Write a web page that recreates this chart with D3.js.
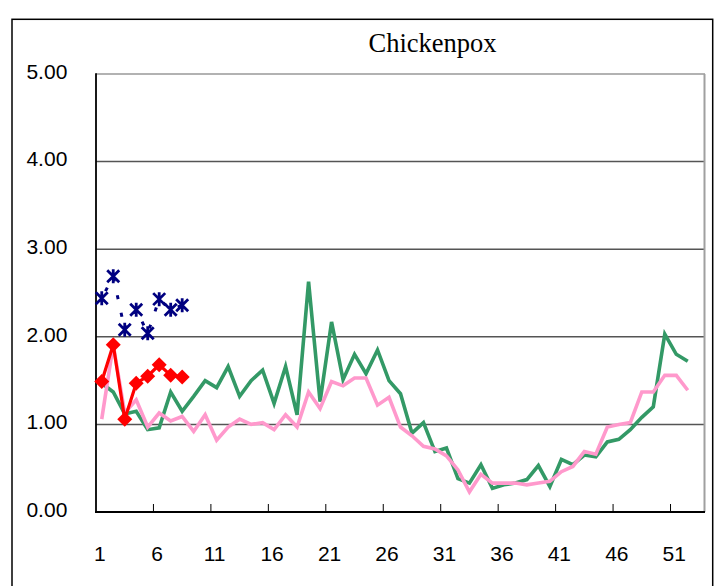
<!DOCTYPE html>
<html>
<head>
<meta charset="utf-8">
<script src="https://cdn.jsdelivr.net/npm/d3@7"></script>
<style>
  body { margin: 0; background: #fff; }
  svg { display: block; }
</style>
</head>
<body>
<div id="chart"></div>
<script>
// week numbers on the category axis (53 slots, data runs to 52)
var weeks = d3.range(1, 54);
var weekLabels = [1, 6, 11, 16, 21, 26, 31, 36, 41, 46, 51];
var yTicks = [0, 1, 2, 3, 4, 5];

// green: last season
var seriesGreen = [1.47, 1.37, 1.12, 1.15, 0.94, 0.96, 1.37, 1.15, 1.32, 1.50,
    1.42, 1.66, 1.32, 1.50, 1.62, 1.24, 1.66, 1.11, 2.63, 1.26,
    2.17, 1.51, 1.80, 1.58, 1.85, 1.50, 1.35, 0.90, 1.02, 0.69,
    0.73, 0.38, 0.33, 0.54, 0.27, 0.31, 0.33, 0.37, 0.53, 0.29,
    0.60, 0.54, 0.65, 0.63, 0.80, 0.83, 0.94, 1.08, 1.20, 2.03,
    1.80, 1.72];
// pink: average
var seriesPink = [1.06, 1.91, 1.13, 1.28, 0.97, 1.13, 1.04, 1.09, 0.92, 1.11,
    0.82, 0.97, 1.06, 1.00, 1.02, 0.94, 1.11, 0.97, 1.37, 1.18,
    1.49, 1.44, 1.53, 1.53, 1.22, 1.31, 0.97, 0.87, 0.75, 0.72,
    0.64, 0.48, 0.23, 0.43, 0.33, 0.33, 0.33, 0.31, 0.33, 0.35,
    0.46, 0.52, 0.69, 0.66, 0.97, 1.00, 1.02, 1.37, 1.37, 1.56,
    1.56, 1.39];
// red: this season
var seriesRed = [1.49, 1.91, 1.06, 1.47, 1.55, 1.68, 1.56, 1.54];
// blue: this season (other)
var seriesBlue = [2.44, 2.69, 2.08, 2.31, 2.04, 2.43, 2.31, 2.36];

var width = 721, height = 586;
var plot = { left: 96, right: 705, top: 74, bottom: 512 };

var svg = d3.select('#chart').append('svg')
    .attr('width', width)
    .attr('height', height);

var x = d3.scaleBand()
    .domain(weeks)
    .range([plot.left, plot.right])
    .paddingInner(0).paddingOuter(0);

var y = d3.scaleLinear()
    .domain([0, 5])
    .range([plot.bottom, plot.top]);

function cx(i) {
    return x(i + 1) + x.bandwidth() / 2;
}

// outer frame
svg.append('rect')
    .attr('x', 12).attr('y', 19.3)
    .attr('width', 700.7).attr('height', 620)
    .attr('fill', 'none')
    .attr('stroke', '#000')
    .attr('stroke-width', 1.5);

// title
svg.append('text')
    .attr('x', 432.5).attr('y', 51.5)
    .attr('text-anchor', 'middle')
    .style('font-family', '"Liberation Serif", "DejaVu Serif", serif')
    .style('font-size', '26.5px')
    .attr('fill', '#000')
    .text('Chickenpox');

// gridlines
svg.append('g')
    .selectAll('line')
    .data(yTicks.filter(function(d) { return d > 0; }))
    .enter()
    .append('line')
    .attr('x1', plot.left).attr('x2', plot.right)
    .attr('y1', function(d) { return y(d); })
    .attr('y2', function(d) { return y(d); })
    .attr('stroke', function(d) { return d === 5 ? '#999' : '#555'; })
    .attr('stroke-width', 1.5);

// right edge of plot area
svg.append('line')
    .attr('x1', plot.right - 0.5).attr('x2', plot.right - 0.5)
    .attr('y1', plot.top).attr('y2', plot.bottom)
    .attr('stroke', '#a0a0a0')
    .attr('stroke-width', 2);

// y axis
var yAxis = d3.axisLeft(y)
    .tickValues(yTicks)
    .tickFormat(d3.format('.2f'))
    .tickSize(0)
    .tickPadding(28.7);

var gy = svg.append('g')
    .attr('transform', 'translate(' + plot.left + ',0)')
    .call(yAxis);
gy.select('.domain').remove();
gy.selectAll('text')
    .attr('dy', '0.2em')
    .attr('fill', '#000')
    .style('font-family', '"Liberation Sans", Arial, sans-serif')
    .style('font-size', '21px');

svg.append('line')
    .attr('x1', plot.left).attr('x2', plot.left)
    .attr('y1', plot.top - 0.7).attr('y2', plot.bottom + 1)
    .attr('stroke', '#000')
    .attr('stroke-width', 1.8);

// x axis: ticks at category boundaries, labels at centres
var tickWeeks = weeks.filter(function(w) { return w > 1 && (w - 1) % 5 === 0; });
svg.append('g')
    .selectAll('line')
    .data(tickWeeks)
    .enter()
    .append('line')
    .attr('x1', function(d) { return x(d); })
    .attr('x2', function(d) { return x(d); })
    .attr('y1', plot.bottom - 8).attr('y2', plot.bottom)
    .attr('stroke', '#000')
    .attr('stroke-width', 1);

svg.append('line')
    .attr('x1', plot.left - 0.9).attr('x2', plot.right)
    .attr('y1', plot.bottom).attr('y2', plot.bottom)
    .attr('stroke', '#000')
    .attr('stroke-width', 1.8);

svg.append('g')
    .selectAll('text')
    .data(weekLabels)
    .enter()
    .append('text')
    .attr('x', function(d) { return x(d) + x.bandwidth() / 2 - 2; })
    .attr('y', 560.7)
    .attr('text-anchor', 'middle')
    .attr('fill', '#000')
    .style('font-family', '"Liberation Sans", Arial, sans-serif')
    .style('font-size', '21px')
    .text(function(d) { return d; });

// lines
var line = d3.line()
    .x(function(d, i) { return cx(i); })
    .y(function(d) { return y(d); });

svg.append('path')
    .datum(seriesGreen)
    .attr('d', line)
    .attr('fill', 'none')
    .attr('stroke', '#339966')
    .attr('stroke-width', 3.6);

svg.append('path')
    .datum(seriesPink)
    .attr('d', line)
    .attr('fill', 'none')
    .attr('stroke', '#ff99cc')
    .attr('stroke-width', 3.6);

svg.append('path')
    .datum(seriesRed)
    .attr('d', line)
    .attr('fill', 'none')
    .attr('stroke', '#ff0000')
    .attr('stroke-width', 3.2);

svg.append('g')
    .selectAll('path')
    .data(seriesRed)
    .enter()
    .append('path')
    .attr('transform', function(d, i) { return 'translate(' + cx(i) + ',' + y(d) + ')'; })
    .attr('d', 'M0,-7.5L7.5,0L0,7.5L-7.5,0Z')
    .attr('fill', '#ff0000');

svg.append('path')
    .datum(seriesBlue)
    .attr('d', line)
    .attr('fill', 'none')
    .attr('stroke', '#000080')
    .attr('stroke-width', 3)
    .attr('stroke-dasharray', '4,14')
    .attr('stroke-dashoffset', -8);

svg.append('g')
    .selectAll('path')
    .data(seriesBlue)
    .enter()
    .append('path')
    .attr('transform', function(d, i) { return 'translate(' + cx(i) + ',' + y(d) + ')'; })
    .attr('d', 'M0,-7V7M-6,-6L6,6M-6,6L6,-6')
    .attr('fill', 'none')
    .attr('stroke', '#000080')
    .attr('stroke-width', 2.8);
</script>
</body>
</html>
